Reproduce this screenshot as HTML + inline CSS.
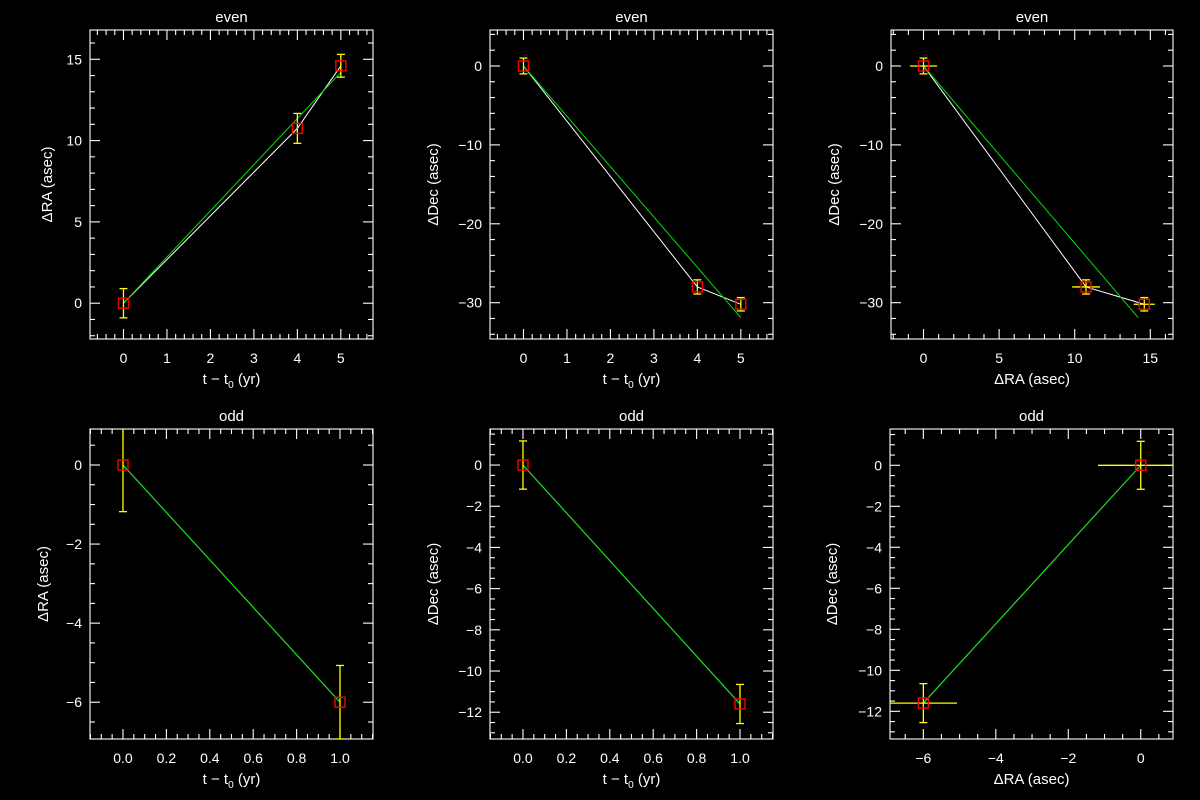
<!DOCTYPE html>
<html><head><meta charset="utf-8"><style>
html,body{margin:0;padding:0;background:#000;}
svg{display:block;font-family:"Liberation Sans",sans-serif;}
</style></head><body>
<svg id="fig" width="1200" height="800" viewBox="0 0 1200 800"></svg>
<script>
// ---- data ----
const evenT = [0, 4, 5];
const evenRA = [0, 10.75, 14.6];
const evenRAErr = [0.9, 0.92, 0.7];
const evenDec = [0, -28.0, -30.2];
const evenDecErr = [1.0, 0.9, 0.85];
const evenFitRA = [0, 14.2];      // fit RA at t=0, t=5
const evenFitDec = [0, -31.9];    // fit Dec at t=0, t=5
const evenFitT = [0, 5];
const oddT = [0, 1];
const oddRA = [0, -6.0];
const oddRAErr = [1.18, 0.93];
const oddDec = [0, -11.6];
const oddDecErr = [1.17, 0.95];

const NS = "http://www.w3.org/2000/svg";
const svg = document.getElementById('fig');
function el(tag, attrs, parent) {
  const e = document.createElementNS(NS, tag);
  for (const k in attrs) e.setAttribute(k, attrs[k]);
  (parent || svg).appendChild(e);
  return e;
}

function panel(o) {
  const g = el('g', {});
  
  
  const L=o.box[0], T=o.box[1], R=o.box[2], B=o.box[3];
  const sx = v => L + (v - o.xr[0]) / (o.xr[1] - o.xr[0]) * (R - L);
  const sy = v => B - (v - o.yr[0]) / (o.yr[1] - o.yr[0]) * (B - T);
  const clipId = 'c' + o.name;
  const cp = el('clipPath', {id: clipId}, g);
  el('rect', {x: L, y: T, width: R - L, height: B - T}, cp);
  const frame = el('rect', {x: L, y: T, width: R - L, height: B - T, fill: 'none', stroke: '#fff', 'stroke-width': 1.1}, g);
  
  
  const eps = 1e-6;
  const tk = el('g', {stroke: '#fff', 'stroke-width': 1.1}, g);
  
  
  for (let v = Math.ceil(o.xr[0] / o.xmin - eps) * o.xmin; v <= o.xr[1] + eps; v += o.xmin) {
    const major = Math.abs(v / o.xmaj - Math.round(v / o.xmaj)) < 1e-4;
    const len = major ? 10 : 5, x = sx(v);
    el('line', {x1: x, x2: x, y1: B, y2: B - len}, tk);
    el('line', {x1: x, x2: x, y1: T, y2: T + len}, tk);
    if (major) {
      const t = el('text', {x: x, y: B + 24, fill: '#fff', 'font-size': 14, 'text-anchor': 'middle'}, g);
      
      
      const r = Math.round(v / o.xmaj) * o.xmaj;
      t.textContent = o.xfmt(r).replace('-', '\u2212');
    }
  }
  for (let v = Math.ceil(o.yr[0] / o.ymin - eps) * o.ymin; v <= o.yr[1] + eps; v += o.ymin) {
    const major = Math.abs(v / o.ymaj - Math.round(v / o.ymaj)) < 1e-4;
    const len = major ? 10 : 5, y = sy(v);
    el('line', {x1: L, x2: L + len, y1: y, y2: y}, tk);
    el('line', {x1: R, x2: R - len, y1: y, y2: y}, tk);
    if (major) {
      const t = el('text', {x: L - 8, y: y + 5, fill: '#fff', 'font-size': 14, 'text-anchor': 'end'}, g);
      
      
      const r = Math.round(v / o.ymaj) * o.ymaj;
      t.textContent = String(r).replace('-', '\u2212');
    }
  }
  const ti = el('text', {x: (L + R) / 2, y: T - 8, fill: '#fff', 'font-size': 15, 'text-anchor': 'middle'}, g);
  
  
  ti.textContent = o.title;
  const xt = el('text', {x: (L + R) / 2, y: B + 45, fill: '#fff', 'font-size': 15, 'text-anchor': 'middle'}, g);
  
  
  if (o.xlab === 't') {
    xt.innerHTML = 't \u2212 t<tspan font-size="10" dy="4">0</tspan><tspan dy="-4"> (yr)</tspan>';
  } else xt.textContent = o.xlab;
  const cy = (T + B) / 2;
  const yx = L - o.yoff;
  const yt = el('text', {x: yx, y: cy, fill: '#fff', 'font-size': 15, 'text-anchor': 'middle', transform: 'rotate(-90 ' + yx + ' ' + cy + ')'}, g);
  
  
  yt.textContent = o.ylab;

  const d = el('g', {'clip-path': 'url(#' + clipId + ')'}, g);
  if (o.white) {
    const pl = el('polyline', {points: o.x.map((v, i) => sx(v) + ',' + sy(o.y[i])).join(' '), fill: 'none', stroke: '#fff', 'stroke-width': 1}, d);
    
    
  }
  const fl = el('line', {x1: sx(o.fx[0]), y1: sy(o.fy[0]), x2: sx(o.fx[1]), y2: sy(o.fy[1]), stroke: '#00e000', 'stroke-width': 1}, d);
  
  
  o.x.forEach((v, i) => {
    const x = sx(v), y = sy(o.y[i]);
    const eg = el('g', {stroke: '#ffff00', 'stroke-width': 1.3}, d);
    
    
    const y1 = sy(o.y[i] + o.ye[i]), y2 = sy(o.y[i] - o.ye[i]);
    el('line', {x1: x, x2: x, y1: y1, y2: y2}, eg);
    el('line', {x1: x - 4, x2: x + 4, y1: y1, y2: y1}, eg);
    el('line', {x1: x - 4, x2: x + 4, y1: y2, y2: y2}, eg);
    if (o.xe) el('line', {x1: sx(v - o.xe[i]), x2: sx(v + o.xe[i]), y1: y, y2: y}, eg);
    const m = el('rect', {x: x - 5, y: y - 5, width: 10, height: 10, fill: 'none', stroke: '#ff0000', 'stroke-width': 1.4}, d);
    
    
  });
}
const f0 = v => String(v);
const f1 = v => v.toFixed(1);
panel({name: 'even-ra-vs-t', box: [90, 30, 373, 339], xr: [-0.77, 5.74], yr: [-2.2, 16.8], xmaj: 1, xmin: 0.2, ymaj: 5, ymin: 1, xfmt: f0, yoff: 38,
  title: 'even', xlab: 't', ylab: '\u0394RA (asec)', x: evenT, y: evenRA, ye: evenRAErr, fx: evenFitT, fy: evenFitRA, white: true});
panel({name: 'even-dec-vs-t', box: [490, 30, 773, 339], xr: [-0.77, 5.74], yr: [-34.6, 4.56], xmaj: 1, xmin: 0.2, ymaj: 10, ymin: 2, xfmt: f0, yoff: 52,
  title: 'even', xlab: 't', ylab: '\u0394Dec (asec)', x: evenT, y: evenDec, ye: evenDecErr, fx: evenFitT, fy: evenFitDec, white: true});
panel({name: 'even-dec-vs-ra', box: [891, 30, 1173, 339], xr: [-2.15, 16.5], yr: [-34.6, 4.56], xmaj: 5, xmin: 1, ymaj: 10, ymin: 2, xfmt: f0, yoff: 52,
  title: 'even', xlab: '\u0394RA (asec)', ylab: '\u0394Dec (asec)', x: evenRA, y: evenDec, xe: evenRAErr, ye: evenDecErr, fx: evenFitRA, fy: evenFitDec, white: true});
panel({name: 'odd-ra-vs-t', box: [90, 429, 373, 739], xr: [-0.152, 1.152], yr: [-6.93, 0.91], xmaj: 0.2, xmin: 0.05, ymaj: 2, ymin: 0.5, xfmt: f1, yoff: 42,
  title: 'odd', xlab: 't', ylab: '\u0394RA (asec)', x: oddT, y: oddRA, ye: oddRAErr, fx: oddT, fy: oddRA, white: true});
panel({name: 'odd-dec-vs-t', box: [490, 429, 773, 739], xr: [-0.152, 1.152], yr: [-13.3, 1.75], xmaj: 0.2, xmin: 0.05, ymaj: 2, ymin: 0.5, xfmt: f1, yoff: 52,
  title: 'odd', xlab: 't', ylab: '\u0394Dec (asec)', x: oddT, y: oddDec, ye: oddDecErr, fx: oddT, fy: oddDec, white: true});
panel({name: 'odd-dec-vs-ra', box: [890, 429, 1173, 739], xr: [-6.92, 0.89], yr: [-13.35, 1.77], xmaj: 2, xmin: 0.5, ymaj: 2, ymin: 0.5, xfmt: f0, yoff: 53,
  title: 'odd', xlab: '\u0394RA (asec)', ylab: '\u0394Dec (asec)', x: oddRA, y: oddDec, xe: oddRAErr, ye: oddDecErr, fx: oddRA, fy: oddDec, white: true});
</script>
</body></html>
